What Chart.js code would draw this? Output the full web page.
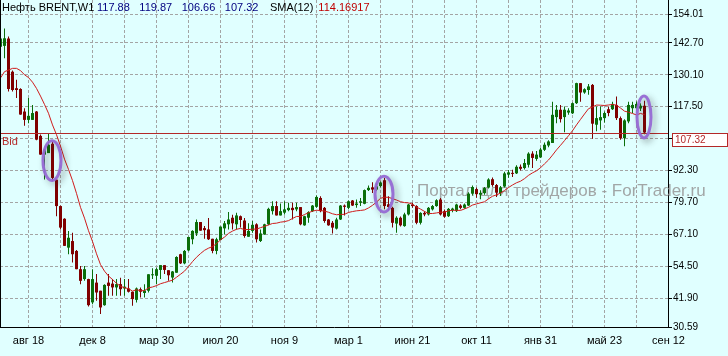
<!DOCTYPE html>
<html><head><meta charset="utf-8">
<script src="https://cdn.jsdelivr.net/npm/chart.js@4.4.1/dist/chart.umd.min.js"></script>
<style>html,body{margin:0;padding:0;background:#E0FFFF;overflow:hidden}canvas{display:block}</style>
</head><body>
<canvas id="c" width="728" height="356"></canvas>
<script>
// ---- data (weekly Brent candles) ----
const symbolTitle = 'Нефть BRENT,W1';
const smaTitle = 'SMA(12)';
const smaShown = '114.16917';
const smaPeriod = 12;
const bidPrice = 107.32;
// closes of the 11 weeks before the first visible candle (SMA warm-up, not drawn)
const priorCloses = [115.0,117.0,116.0,124.0,125.0,132.0,127.0,137.0,134.0,135.0,140.0];
const opens = [
141.2,141.5,144.4,131.3,124.8,124.5,115.6,112.3,112.3,115.6,
106.0,98.6,99.2,102.9,88.7,78.3,73.3,61.9,64.5,60.6,
53.4,49.5,49.5,40.3,48.1,44.9,39.2,48.1,47.7,46.2,
47.5,45.8,45.8,44.5,41.3,45.5,44.0,44.9,51.0,50.8,
53.1,55.0,53.0,50.1,52.0,59.3,55.7,60.8,65.2,67.5,
72.0,69.6,69.1,65.4,60.6,64.9,69.5,71.1,73.7,71.1,
74.3,72.6,66.2,68.5,71.1,64.5,67.1,71.1,76.3,78.3,
74.6,75.7,76.7,77.6,77.0,77.9,70.7,73.7,76.3,78.0,
81.5,77.6,73.0,71.7,69.4,73.0,78.5,77.6,80.5,78.7,
79.6,79.2,84.6,85.7,84.8,86.2,88.5,79.0,77.6,71.4,
73.7,70.4,75.0,78.9,78.3,71.7,75.6,75.0,77.0,78.3,
80.9,76.3,74.3,76.7,76.3,78.5,77.6,78.5,83.2,85.0,
82.8,83.4,85.6,88.9,86.6,83.4,86.0,90.7,91.4,91.2,
93.8,93.3,94.6,99.0,96.9,97.5,100.5,102.2,103.2,113.4,
116.3,113.4,115.2,114.9,118.9,126.8,123.1,124.1,126.1,110.4,
112.1,113.0,116.5,116.5,118.2,113.0,105.1,111.7,116.9,116.9,
116.8,117.88];
const highs = [
145.0,148.4,145.2,131.8,128.1,124.8,116.9,120.9,118.2,115.8,
106.5,100.8,107.1,103.8,88.9,78.5,73.5,68.5,67.8,61.0,
54.7,54.7,49.6,53.4,51.5,44.9,47.5,51.5,49.5,49.5,
50.0,49.5,49.5,44.6,46.2,46.2,47.5,51.4,53.8,54.0,
55.0,55.0,53.0,52.7,58.5,59.5,61.0,66.2,68.8,73.0,
72.0,70.4,73.6,65.4,65.8,70.2,72.4,76.0,74.9,75.7,
74.6,73.6,71.5,72.4,71.5,69.1,71.3,77.6,80.2,80.2,
79.3,80.2,79.6,79.6,79.6,77.9,74.5,76.3,78.7,82.5,
82.2,77.9,73.2,72.4,73.7,78.7,78.9,80.5,80.7,80.9,
81.5,84.8,86.4,87.7,87.5,88.0,89.4,82.2,78.0,74.3,
74.2,75.7,79.2,79.6,78.6,75.9,76.3,77.9,78.7,81.0,
81.5,76.9,77.5,77.6,79.2,79.0,79.3,83.8,86.4,85.6,
84.5,85.8,89.3,89.6,87.0,86.2,91.8,92.5,92.6,94.4,
94.7,96.9,99.5,99.9,100.0,101.2,103.4,104.3,119.5,118.2,
118.2,117.6,116.9,119.2,127.0,126.9,124.8,126.5,126.5,117.6,
117.6,115.6,117.6,119.5,121.5,113.6,112.6,119.5,119.5,119.6,
118.9,119.87];
const lows = [
140.5,136.6,123.5,123.5,120.9,114.3,110.0,111.0,112.3,104.3,
98.5,88.8,99.2,88.1,74.3,69.1,62.5,59.3,56.0,53.4,
47.5,48.8,38.7,39.6,40.9,35.7,39.0,42.9,42.9,42.9,
42.9,42.9,44.2,39.0,40.3,42.2,42.2,44.2,49.5,47.5,
49.5,51.5,48.8,48.1,52.0,55.4,55.3,60.5,63.2,66.5,
68.6,65.4,64.9,59.7,59.3,64.9,67.1,69.1,69.1,69.1,
69.8,65.8,66.2,67.8,63.9,64.1,67.0,70.7,75.0,74.6,
74.6,75.0,76.3,73.0,76.3,70.7,70.5,71.7,76.0,77.6,
75.9,71.7,70.5,67.5,69.1,72.8,74.6,77.0,78.3,77.6,
78.3,79.0,84.2,83.5,84.2,85.7,77.0,76.6,69.8,67.8,
70.2,70.1,74.6,77.6,71.1,71.0,74.3,74.6,76.6,78.0,
74.6,73.7,74.0,75.9,76.0,77.0,77.2,78.3,82.5,81.6,
81.0,82.8,85.2,85.9,81.9,82.3,85.6,89.5,89.8,91.0,
92.3,92.7,93.5,93.3,96.2,97.3,100.0,101.5,103.2,111.0,
111.3,107.4,114.3,114.6,118.6,119.5,122.6,122.2,104.9,107.8,
108.4,111.3,113.7,116.2,112.3,104.5,101.9,111.0,115.0,116.3,
115.8,106.66];
const closes = [
144.4,144.5,124.5,124.1,124.1,114.4,112.3,113.9,115.0,104.5,
98.6,100.5,102.5,89.4,78.3,69.8,62.6,65.8,59.3,53.4,
48.8,53.4,39.2,49.5,44.2,38.3,47.2,46.8,46.2,47.5,
45.5,46.5,44.5,41.6,45.8,44.5,45.0,51.4,51.2,53.4,
55.0,53.1,51.0,52.5,58.2,55.7,60.6,66.1,68.5,72.0,
68.6,68.8,65.2,60.6,65.2,70.2,71.5,73.0,71.5,74.6,
72.8,66.5,68.5,70.9,65.2,67.5,71.1,77.2,78.3,74.6,
76.3,77.0,77.6,76.7,77.9,71.1,74.3,75.9,78.5,81.9,
76.3,72.4,70.7,69.8,73.0,78.5,78.0,80.2,78.5,79.3,
80.2,84.6,85.5,84.8,86.1,87.6,78.3,77.9,71.7,73.7,
70.7,75.0,78.9,78.3,71.7,75.6,75.0,77.6,78.3,80.6,
75.0,74.1,77.2,77.3,78.9,77.6,78.9,83.2,85.8,83.0,
83.5,85.4,88.8,86.6,83.6,85.7,91.2,91.6,91.0,93.8,
93.0,95.3,99.0,97.3,98.6,100.6,102.5,103.8,114.3,116.3,
112.6,116.3,116.0,118.9,126.8,123.1,124.4,125.5,110.8,113.0,
113.4,115.0,115.0,118.6,113.0,105.1,112.1,118.2,118.2,118.6,
117.9,107.32];
// time axis: week index of grid lines and of labelled ticks
const gridWeeks = [7,15,23,31,39,47,55,63,71,79,87,95,103,111,119,127,135,143,151,159,167];
const labelWeeks = [7,23,39,55,71,87,103,119,135,151,167];
const labelTexts = ['авг 18','дек 8','мар 30','июл 20','ноя 9','мар 1','июн 21','окт 11','янв 31','май 23','сен 12'];
// price axis
const priceTicks = [30.59,41.90,54.50,67.10,79.70,92.30,104.90,117.50,130.10,142.70,154.01];
// highlighted candles (week index, price range)
const marks = [{week:13, lo:88.4, hi:104.1}, {week:96, lo:76.0, hi:90.1}, {week:161, lo:105.2, hi:121.7}];

// ---- styles ----
const BG = '#E0FFFF', BULL = '#0a6e0a', BEAR = '#800000', GRID = '#a4a4a4', SMA_C = '#d01c1c', BID_C = '#b42828';
const weeks = opens.map((_, i) => i);
const allCloses = priorCloses.concat(closes);
const smaVals = weeks.map(i => {
  const end = i + priorCloses.length;
  let s = 0; for (let j = end - smaPeriod + 1; j <= end; j++) s += allCloses[j];
  return s / smaPeriod;
});
const colorOf = weeks.map(i => closes[i] >= opens[i] ? BULL : BEAR);

const decor = {
  id: 'decor',
  beforeDraw(chart) {
    const c = chart.ctx; c.save(); c.fillStyle = BG; c.fillRect(0, 0, chart.width, chart.height); c.restore();
  },
  beforeDatasetsDraw(chart) {
    const c = chart.ctx; c.save();
    c.font = '17px "Liberation Sans", Arial, sans-serif';
    c.fillStyle = 'rgba(150,150,150,0.85)';
    c.textBaseline = 'alphabetic';
    c.fillText('Портал для трейдеров - ForTrader.ru', 417, 195.5);
    c.restore();
  },
  afterDatasetsDraw(chart) {
    const c = chart.ctx, a = chart.chartArea, y = chart.scales.y;
    const by = Math.round(y.getPixelForValue(bidPrice)) + 0.5;
    c.save();
    c.strokeStyle = BID_C; c.lineWidth = 1;
    c.beginPath(); c.moveTo(a.left, by); c.lineTo(a.right, by); c.stroke();
    c.strokeStyle = '#000';
    c.beginPath(); c.moveTo(0.5, 0); c.lineTo(0.5, a.bottom); c.stroke();
    c.restore();
  },
  afterDraw(chart) {
    const c = chart.ctx, a = chart.chartArea, xs = chart.scales.x, ys = chart.scales.y;
    c.save();
    // header
    c.font = '11px "Liberation Sans", Arial, sans-serif';
    c.textBaseline = 'alphabetic';
    c.fillStyle = '#000'; c.fillText(symbolTitle, 2, 11);
    c.fillStyle = '#000080';
    const ohlc = [opens[opens.length-1], highs[highs.length-1], lows[lows.length-1], closes[closes.length-1]];
    let hx = 97;
    ohlc.forEach(v => { const t = v.toFixed(2); c.fillText(t, hx, 11); hx += c.measureText(t).width + 9.5; });
    c.fillStyle = '#000'; c.fillText(smaTitle, hx + 2, 11);
    hx += 2 + c.measureText(smaTitle).width + 5;
    c.fillStyle = '#c00000'; c.fillText(smaShown, hx, 11);
    // Bid text and price box
    const by = Math.round(ys.getPixelForValue(bidPrice));
    c.fillStyle = BID_C; c.textBaseline = 'top'; c.fillText('Bid', 2, by + 3);
    c.fillStyle = '#ffffff'; c.fillRect(672, by, 56, 14);
    c.strokeStyle = BID_C; c.lineWidth = 1; c.strokeRect(672.5, by + 0.5, 55, 13);
    c.fillStyle = BID_C; c.font = '10px "Liberation Sans", Arial, sans-serif'; c.textBaseline = 'middle';
    c.fillText(bidPrice.toFixed(2), 675, by + 7.5);
    // highlight ellipses
    const rx = [9, 9, 7];
    marks.forEach((m, i) => {
      const cx = xs.getPixelForValue(m.week) - 0.5;
      const y1 = ys.getPixelForValue(m.hi), y2 = ys.getPixelForValue(m.lo);
      c.save();
      c.shadowColor = 'rgba(40,40,40,0.45)'; c.shadowBlur = 6; c.shadowOffsetX = 3; c.shadowOffsetY = 3;
      c.strokeStyle = 'rgba(150,105,212,0.95)'; c.lineWidth = 3;
      c.beginPath(); c.ellipse(cx, (y1 + y2) / 2, rx[i], (y2 - y1) / 2, 0, 0, Math.PI * 2); c.stroke();
      c.restore();
    });
    c.restore();
  }
};

new Chart(document.getElementById('c'), {
  type: 'bar',
  data: {
    datasets: [
      { type: 'line', label: 'SMA', data: weeks.map(i => ({x: i, y: smaVals[i]})), borderColor: SMA_C, borderWidth: 1,
        pointRadius: 0, tension: 0, fill: false, order: 1 },
      { type: 'bar', label: 'body', data: weeks.map(i => ({x: i, y: [opens[i], closes[i]]})), backgroundColor: colorOf,
        barThickness: 3, minBarLength: 1, grouped: false, inflateAmount: 0, borderWidth: 0, order: 2 },
      { type: 'bar', label: 'wick', data: weeks.map(i => ({x: i, y: [lows[i], highs[i]]})), backgroundColor: colorOf,
        barThickness: 1, grouped: false, inflateAmount: 0, borderWidth: 0, order: 3 }
    ]
  },
  options: {
    responsive: false, animation: false, devicePixelRatio: 1,
    layout: { padding: 0 },
    plugins: { legend: { display: false }, tooltip: { enabled: false } },
    scales: {
      x: {
        type: 'linear', position: 'bottom', min: -0.125, max: 166.875, offset: false,
        afterBuildTicks: s => { s.ticks = gridWeeks.map(v => ({value: v})); },
        afterFit: s => { s.height = 29; s.paddingLeft = 0; s.paddingRight = 0; },
        grid: { color: GRID, lineWidth: 1, drawTicks: false, offset: false },
        border: { display: true, color: '#000', width: 1, dash: [3, 2] },
        ticks: { autoSkip: false, maxRotation: 0, padding: 7, color: '#000',
          font: { family: '"Liberation Sans", Arial, sans-serif', size: 11 },
          callback: v => { const j = labelWeeks.indexOf(v); return j >= 0 ? labelTexts[j] : ''; } }
      },
      y: {
        type: 'linear', position: 'right', min: 30.59, max: 159.6, beginAtZero: false,
        afterBuildTicks: s => { s.ticks = priceTicks.map(v => ({value: v})); },
        afterFit: s => { s.width = 60; s.paddingTop = 0; s.paddingBottom = 0; },
        grid: { color: GRID, lineWidth: 1, drawTicks: true, tickLength: 4, tickColor: '#000' },
        border: { display: true, color: '#000', width: 1, dash: [3, 2] },
        ticks: { padding: 1, color: '#000', font: { family: '"Liberation Sans", Arial, sans-serif', size: 10 },
          callback: v => Math.abs(v - bidPrice) < 4 ? '' : v.toFixed(2) }
      }
    }
  },
  plugins: [decor]
});
</script>
</body></html>
